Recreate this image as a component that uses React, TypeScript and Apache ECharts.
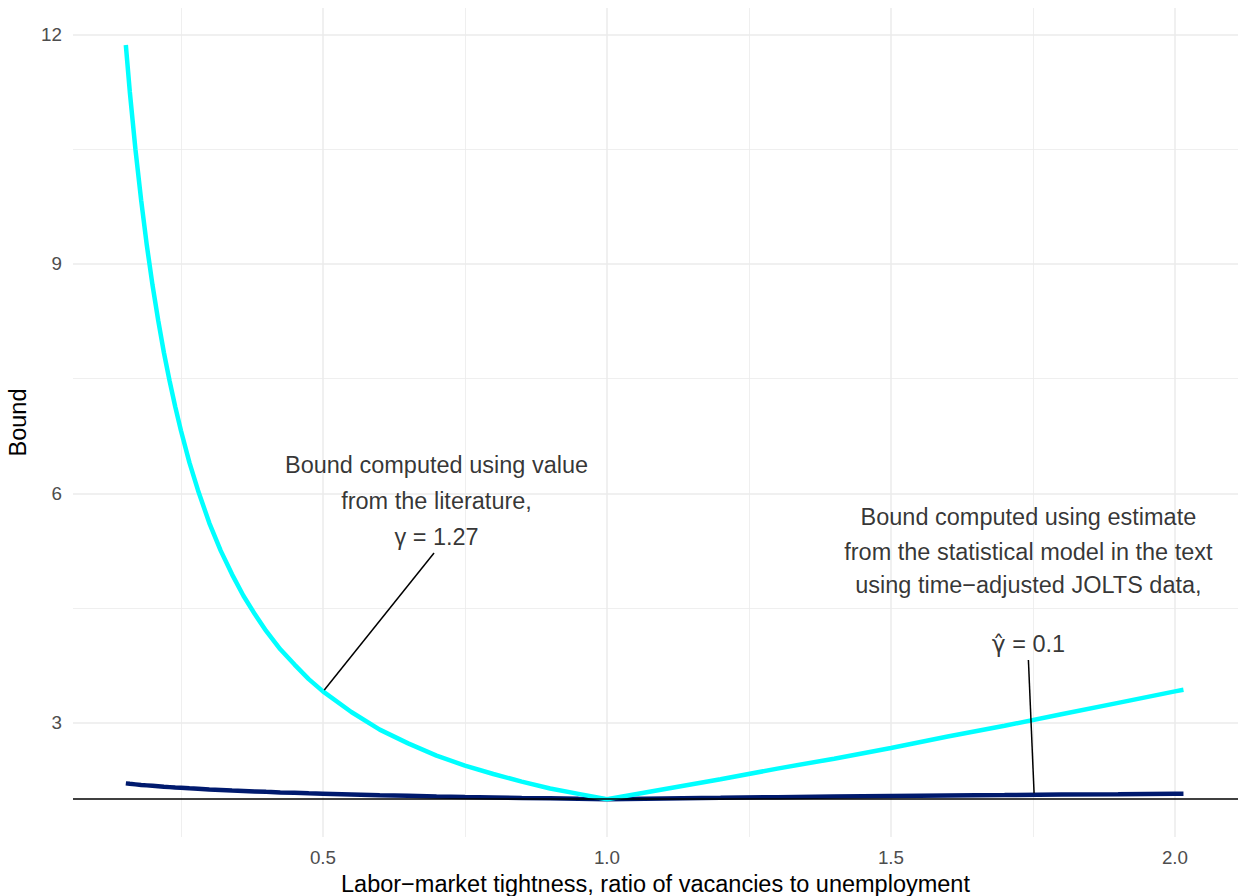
import React, { useEffect, useRef } from "react";
import * as echarts from "echarts";

// Labor-market tightness (x) and the two bounds (y)
const tightness = [0.153, 0.16, 0.17, 0.18, 0.19, 0.2, 0.21, 0.22, 0.23, 0.24, 0.25, 0.265, 0.28, 0.3, 0.32, 0.34, 0.36, 0.38, 0.4, 0.425, 0.45, 0.475, 0.5, 0.55, 0.6, 0.65, 0.7, 0.75, 0.8, 0.85, 0.9, 0.95, 1.0, 1.1, 1.2, 1.3, 1.4, 1.5, 1.6, 1.7, 1.8, 1.9, 2.0, 2.015];
const boundLiterature = [11.86, 11.25, 10.49, 9.83, 9.24, 8.72, 8.26, 7.84, 7.47, 7.13, 6.82, 6.4, 6.04, 5.61, 5.25, 4.94, 4.66, 4.42, 4.2, 3.96, 3.76, 3.57, 3.41, 3.14, 2.91, 2.73, 2.57, 2.44, 2.33, 2.23, 2.14, 2.07, 2.0, 2.13, 2.26, 2.4, 2.53, 2.67, 2.82, 2.96, 3.11, 3.26, 3.41, 3.43];
const boundEstimate = [2.207, 2.201, 2.194, 2.187, 2.181, 2.175, 2.169, 2.163, 2.158, 2.153, 2.149, 2.142, 2.136, 2.128, 2.121, 2.114, 2.108, 2.102, 2.096, 2.089, 2.083, 2.077, 2.072, 2.062, 2.052, 2.044, 2.036, 2.029, 2.023, 2.016, 2.011, 2.005, 2.0, 2.01, 2.018, 2.027, 2.034, 2.041, 2.048, 2.054, 2.061, 2.066, 2.072, 2.073];

const referenceLevel = 2;

const xTicks = [0.5, 1.0, 1.5, 2.0];
const xTickLabels = ["0.5", "1.0", "1.5", "2.0"];
const yTicks = [3, 6, 9, 12];
const yTickLabels = ["3", "6", "9", "12"];

// annotation texts and their anchor positions (data units)
const annoText = [
  "Bound computed using value",
  "from the literature,",
  "γ = 1.27",
  "Bound computed using estimate",
  "from the statistical model in the text",
  "using time−adjusted JOLTS data,",
  "γ\u0302 = 0.1",
];
const annoHat = [false, false, false, false, false, false, true];
const annoX = [0.7, 0.7, 0.7, 1.742, 1.742, 1.742, 1.742];
const annoY = [6.366, 5.9, 5.432, 5.693, 5.236, 4.8, 4.03];

// pointer segments (data units)
const seg1X = [0.5024, 0.6956];
const seg1Y = [3.428, 5.219];
const seg2X = [1.742, 1.752];
const seg2Y = [3.82, 2.08];

const FONT = "'Liberation Sans', Arial, Helvetica, sans-serif";
const HAT_FONT = "'DejaVu Sans', 'Liberation Sans', sans-serif";

export default function App() {
  const ref = useRef<HTMLDivElement>(null);
  useEffect(() => {
    if (!ref.current) return;
    const chart = echarts.init(ref.current, null, { renderer: "svg" });
    const zip = (xs: number[], ys: number[]) => xs.map((x, i) => [x, ys[i]]);
    const gridLine = { color: "#EBEBEB", width: 1.5 };
    const minorLine = { color: "#EBEBEB", width: 0.8 };
    const option: any = {
      animation: false,
      backgroundColor: "#ffffff",
      textStyle: { fontFamily: FONT },
      grid: { left: 73, right: 0, top: 8, bottom: 59, containLabel: false, outerBoundsMode: "none" },
      xAxis: {
        type: "value",
        min: 0.06,
        max: 2.111,
        splitNumber: 4,
        name: "Labor−market tightness, ratio of vacancies to unemployment",
        nameLocation: "middle",
        nameGap: 33,
        nameTextStyle: { fontSize: 23.5, color: "#000000", fontFamily: FONT },
        axisLine: { show: false },
        axisTick: { show: false },
        axisLabel: {
          fontSize: 18.8,
          color: "#4D4D4D",
          fontFamily: FONT,
          margin: 11,
          formatter: (v: number) => {
            const i = xTicks.findIndex((t) => Math.abs(t - v) < 1e-6);
            return i >= 0 ? xTickLabels[i] : "";
          },
        },
        splitLine: { show: true, showMinLine: false, showMaxLine: false, lineStyle: gridLine },
        minorTick: { show: false, splitNumber: 2 },
        minorSplitLine: { show: true, lineStyle: minorLine },
      },
      yAxis: {
        type: "value",
        min: 1.506,
        max: 12.344,
        splitNumber: 4,
        name: "Bound",
        nameLocation: "middle",
        nameRotate: 90,
        nameGap: 39,
        nameTextStyle: { fontSize: 23.5, color: "#000000", fontFamily: FONT },
        axisLine: { show: false },
        axisTick: { show: false },
        axisLabel: {
          fontSize: 18.8,
          color: "#4D4D4D",
          fontFamily: FONT,
          margin: 11,
          formatter: (v: number) => {
            const i = yTicks.findIndex((t) => Math.abs(t - v) < 1e-6);
            return i >= 0 ? yTickLabels[i] : "";
          },
        },
        splitLine: { show: true, showMinLine: false, showMaxLine: false, lineStyle: gridLine },
        minorTick: { show: false, splitNumber: 2 },
        minorSplitLine: { show: true, lineStyle: minorLine },
      },
      series: [
        {
          name: "reference",
          type: "line",
          data: [],
          z: 1,
          silent: true,
          markLine: {
            silent: true,
            symbol: ["none", "none"],
            label: { show: false },
            lineStyle: { color: "#000000", width: 1.7, type: "solid" },
            data: [{ yAxis: referenceLevel }],
          },
        },
        {
          name: "estimate",
          type: "line",
          data: zip(tightness, boundEstimate),
          showSymbol: false,
          symbol: "none",
          lineStyle: { color: "#001A6E", width: 4.5, cap: "butt" },
          z: 3,
          silent: true,
        },
        {
          name: "literature",
          type: "line",
          data: zip(tightness, boundLiterature),
          showSymbol: false,
          symbol: "none",
          lineStyle: { color: "#00FFFF", width: 4.5, cap: "butt" },
          z: 4,
          silent: true,
        },
        {
          name: "pointer1",
          type: "line",
          data: zip(seg1X, seg1Y),
          showSymbol: false,
          symbol: "none",
          lineStyle: { color: "#000000", width: 1.5 },
          z: 5,
          silent: true,
        },
        {
          name: "pointer2",
          type: "line",
          data: zip(seg2X, seg2Y),
          showSymbol: false,
          symbol: "none",
          lineStyle: { color: "#000000", width: 1.5 },
          z: 5,
          silent: true,
        },
        {
          name: "annotations",
          type: "scatter",
          symbolSize: 0,
          silent: true,
          z: 6,
          data: annoText.map((t, i) => ({ name: t, value: [annoX[i], annoY[i]] })),
          label: {
            show: true,
            position: "inside",
            formatter: (p: any) =>
              annoHat[p.dataIndex]
                ? `{g|${p.name.slice(0, 2)}}{r|${p.name.slice(2)}}`
                : p.name,
            fontSize: 23.5,
            color: "#000000",
            fontFamily: FONT,
            rich: {
              g: { fontSize: 23.5, color: "#000000", fontFamily: HAT_FONT },
              r: { fontSize: 23.5, color: "#000000", fontFamily: FONT },
            },
          },
          emphasis: { disabled: true },
        },
      ],
    };
    chart.setOption(option);
    return () => chart.dispose();
  }, []);
  return (
    <div
      ref={ref}
      style={{ position: "absolute", left: 0, top: 0, width: 1238, height: 896, background: "#fff" }}
    />
  );
}
